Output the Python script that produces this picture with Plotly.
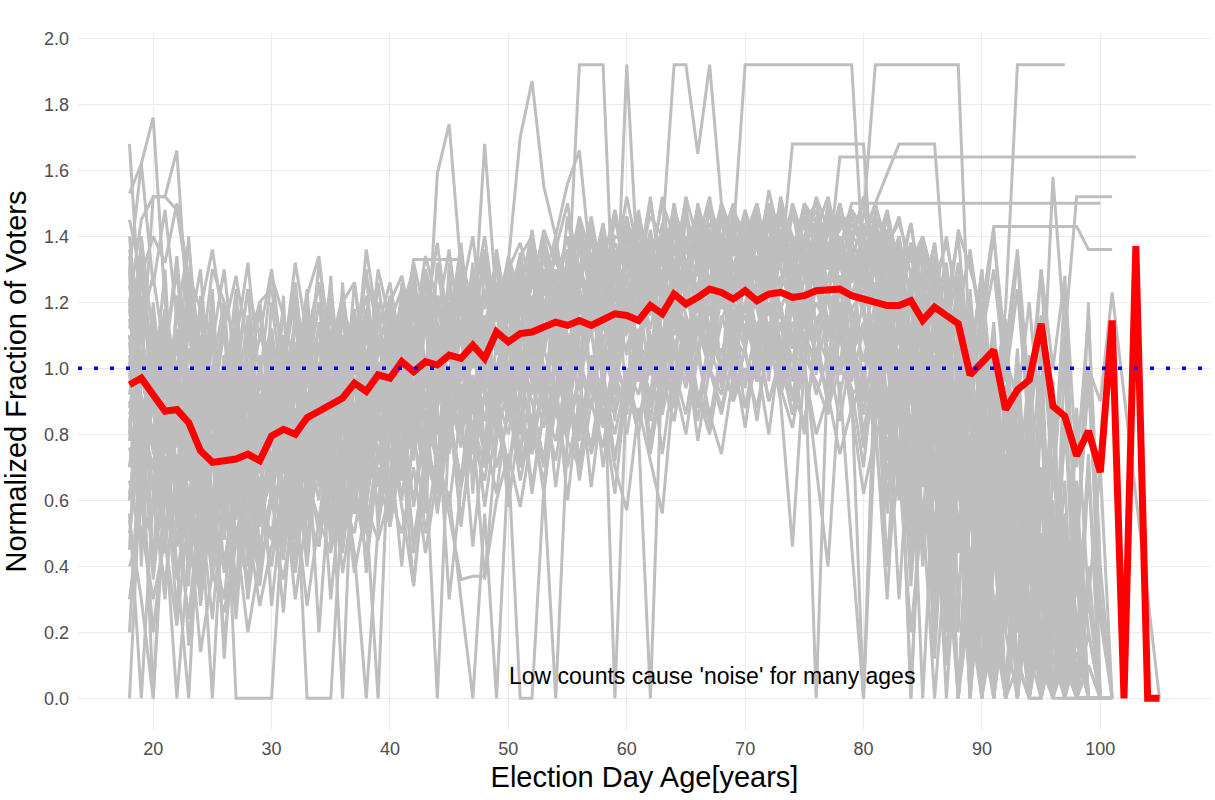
import plotly.graph_objects as go

# Election-day ages shown on the x axis
ages = list(range(18, 106))

# Mean normalized fraction (red line), ages 18..105
mean_fraction = [
    0.95, 0.97,
    0.92, 0.87, 0.875, 0.835, 0.75, 0.715, 0.72, 0.725, 0.74, 0.72,
    0.795, 0.815, 0.80, 0.85, 0.87, 0.89, 0.91, 0.955, 0.93, 0.98,
    0.97, 1.02, 0.99, 1.02, 1.01, 1.04, 1.03, 1.07, 1.03, 1.11,
    1.08, 1.105, 1.11, 1.125, 1.14, 1.13, 1.145, 1.13, 1.145, 1.165,
    1.16, 1.145, 1.19, 1.165, 1.225, 1.195, 1.215, 1.24, 1.23, 1.21,
    1.235, 1.205, 1.225, 1.23, 1.215, 1.22, 1.235, 1.235, 1.24, 1.22,
    1.21, 1.205, 1.19, 1.19, 1.205, 1.145, 1.185, 1.16, 1.135, 0.98,
    1.02, 1.055, 0.875, 0.935, 0.965, 1.135, 0.885, 0.855, 0.735, 0.81,
    0.685, 1.145, 0.0, 1.37, 0.0, 0.0,
]

# Individual (per-area) normalized fractions, gray lines, starting at age 18
g01 = [0.88, 1.12, 0.74, 1.05, 0.62, 0.98, 0.80, 1.18, 0.70, 0.95, 0.60, 1.02, 0.85, 1.10, 0.72, 0.96, 1.20, 0.88, 1.04, 0.76, 1.12, 0.90, 1.18, 0.84, 1.06, 1.28, 0.92, 1.15, 1.00, 1.32, 0.96, 1.20, 1.08, 1.35, 1.15, 1.28, 1.04, 1.20, 1.92, 1.92, 1.92, 1.05, 1.92, 1.25, 1.40, 1.18, 1.50, 1.30, 1.45, 1.22, 1.38, 1.50, 1.32, 1.46, 1.28, 1.52, 1.36, 1.44, 1.25, 1.48, 1.34, 1.40, 1.50, 1.28, 1.42, 1.18, 1.36, 1.05, 1.30, 0.90, 1.20, 0.70, 1.10, 0.45, 0.95, 0.30, 0.80, 0.0, 0.60, 0.20, 0.0, 0.0, 0.0]
g02 = [1.02, 0.76, 1.20, 0.84, 1.08, 0.66, 0.94, 1.12, 0.78, 1.00, 1.24, 0.82, 0.96, 1.18, 0.80, 1.04, 1.26, 0.92, 1.10, 0.85, 1.18, 1.00, 0.90, 1.24, 1.08, 0.96, 1.30, 1.12, 1.38, 1.04, 1.22, 1.16, 1.28, 1.10, 1.40, 1.22, 1.34, 1.18, 1.45, 1.26, 1.38, 1.30, 1.52, 1.34, 1.46, 1.40, 1.92, 1.92, 1.65, 1.92, 1.50, 1.40, 1.92, 1.92, 1.92, 1.92, 1.92, 1.92, 1.92, 1.92, 1.92, 1.92, 1.30, 1.45, 1.15, 1.38, 1.00, 1.25, 0.85, 1.10, 0.60, 0.95, 0.40, 0.80, 0.0, 0.65, 0.25, 0.50, 0.0, 0.35, 0.0, 0.20, 0.0]
g03 = [0.60, 0.95, 1.10, 0.70, 0.88, 0.52, 1.04, 0.76, 0.60, 0.92, 0.48, 0.86, 0.70, 0.98, 0.58, 0.84, 1.02, 0.66, 0.90, 1.12, 0.74, 0.96, 1.08, 0.82, 1.18, 0.94, 1.04, 1.26, 0.90, 1.14, 1.00, 1.24, 0.96, 1.18, 1.32, 1.04, 1.26, 1.40, 1.12, 1.30, 1.20, 1.46, 1.26, 1.38, 1.18, 1.44, 1.30, 1.24, 1.50, 1.36, 1.28, 1.42, 1.34, 1.20, 1.46, 1.30, 1.68, 1.68, 1.68, 1.68, 1.68, 1.68, 1.68, 1.12, 1.32, 0.95, 1.20, 0.80, 1.10, 0.60, 0.90, 0.40, 0.75, 0.20, 0.60, 0.0, 0.45, 0.0, 0.30, 0.55, 0.0, 0.10, 0.0]
g04 = [1.25, 0.98, 0.80, 1.12, 0.94, 0.70, 1.20, 0.86, 1.02, 0.64, 0.96, 1.18, 0.78, 1.00, 1.22, 0.86, 0.94, 1.08, 0.70, 1.16, 0.92, 1.04, 1.22, 0.96, 1.10, 0.88, 1.32, 1.04, 1.18, 1.26, 0.98, 1.36, 1.14, 1.28, 1.06, 1.38, 1.20, 1.32, 1.26, 1.42, 1.18, 1.34, 1.40, 1.24, 1.50, 1.32, 1.44, 1.28, 1.38, 1.52, 1.30, 1.46, 1.36, 1.50, 1.28, 1.42, 1.34, 1.48, 1.40, 1.30, 1.64, 1.64, 1.64, 1.64, 1.64, 1.64, 1.64, 1.64, 1.64, 1.64, 1.64, 1.64, 1.64, 1.64, 1.64, 1.64, 1.64, 1.64, 1.64, 1.64, 1.64, 1.64, 1.64, 1.64, 1.64, 1.64]
g05 = [0.78, 1.30, 0.96, 0.58, 1.22, 0.84, 0.66, 1.00, 1.20, 0.72, 0.90, 1.10, 1.00, 0.76, 0.92, 1.24, 0.68, 1.08, 0.86, 1.00, 1.30, 0.80, 0.94, 1.16, 0.84, 1.22, 1.08, 0.92, 1.28, 1.10, 1.36, 1.04, 1.26, 1.00, 1.18, 1.36, 1.12, 1.46, 1.24, 1.10, 1.40, 1.28, 1.18, 1.42, 1.30, 1.52, 1.24, 1.40, 1.34, 1.26, 1.48, 1.36, 1.42, 1.30, 1.54, 1.38, 1.26, 1.50, 1.44, 1.36, 1.50, 1.32, 1.46, 1.92, 1.92, 1.92, 1.92, 1.92, 1.92, 1.92, 1.92, 1.00, 1.30, 0.60, 1.10, 0.40, 0.95, 0.0, 0.70, 0.30, 0.55, 0.0, 0.0]
g06 = [1.10, 0.84, 0.70, 1.04, 1.30, 0.88, 0.62, 0.96, 1.14, 0.80, 1.00, 0.68, 1.20, 0.92, 1.04, 0.70, 0.98, 1.16, 0.84, 1.26, 1.00, 1.10, 0.86, 1.18, 1.30, 1.00, 1.12, 0.96, 1.22, 1.40, 1.08, 1.18, 1.32, 1.16, 1.28, 1.08, 1.38, 1.22, 1.30, 1.46, 1.26, 1.14, 1.36, 1.28, 1.40, 1.20, 1.46, 1.32, 1.24, 1.50, 1.38, 1.30, 1.26, 1.44, 1.36, 1.50, 1.30, 1.40, 1.48, 1.32, 1.44, 1.38, 1.52, 1.36, 1.48, 1.30, 1.44, 1.20, 1.38, 1.10, 1.32, 1.00, 1.25, 0.90, 1.18, 1.92, 1.92, 1.92, 1.92, 1.92]
g07 = [0.92, 1.20, 1.04, 0.80, 1.18, 0.96, 0.74, 1.10, 0.90, 1.24, 0.70, 1.00, 1.12, 0.86, 0.98, 1.20, 0.80, 1.06, 0.94, 1.18, 0.88, 1.26, 1.00, 1.22, 0.92, 1.28, 1.14, 1.02, 1.34, 1.18, 1.06, 1.30, 1.20, 1.34, 1.12, 1.40, 1.24, 1.18, 1.36, 1.28, 1.44, 1.22, 1.34, 1.48, 1.26, 1.40, 1.30, 1.52, 1.38, 1.24, 1.46, 1.34, 1.48, 1.36, 1.28, 1.50, 1.40, 1.34, 1.52, 1.42, 1.30, 1.46, 1.38, 1.50, 1.59, 1.68, 1.68, 1.68, 1.68, 1.20, 1.40, 1.00, 1.30, 0.80, 1.15, 0.60, 1.00, 0.30, 0.85, 0.0, 0.50, 0.0, 0.0]
g08 = [0.70, 1.04, 0.88, 0.60, 1.00, 0.78, 0.54, 0.92, 0.70, 1.06, 0.82, 0.64, 0.96, 0.74, 1.08, 0.84, 0.70, 1.00, 1.16, 0.86, 1.04, 0.92, 1.12, 0.98, 0.86, 1.18, 1.04, 1.24, 0.96, 1.16, 1.30, 1.06, 1.18, 1.32, 1.04, 1.26, 1.40, 1.16, 1.30, 1.22, 1.38, 1.26, 1.30, 1.44, 1.22, 1.38, 1.26, 1.46, 1.34, 1.42, 1.28, 1.48, 1.40, 1.28, 1.46, 1.32, 1.50, 1.38, 1.26, 1.44, 1.36, 1.50, 1.50, 1.50, 1.50, 1.50, 1.50, 1.50, 1.50, 1.50, 1.50, 1.50, 1.50, 1.50, 1.50, 1.50, 1.50, 1.50, 1.50, 1.50, 1.50, 1.50, 1.50]
g09 = [1.15, 0.90, 0.62, 0.98, 0.76, 1.12, 0.86, 0.58, 1.04, 0.74, 0.92, 1.20, 0.84, 1.06, 0.66, 0.98, 1.12, 0.80, 1.24, 0.94, 0.74, 1.08, 0.96, 1.12, 1.24, 0.88, 1.20, 1.06, 0.98, 1.28, 1.12, 0.94, 1.22, 1.04, 1.36, 1.18, 1.08, 1.30, 1.24, 1.42, 1.16, 1.32, 1.42, 1.20, 1.36, 1.28, 1.50, 1.24, 1.40, 1.32, 1.46, 1.20, 1.34, 1.48, 1.24, 1.40, 1.32, 1.46, 1.28, 1.50, 1.38, 1.26, 1.40, 1.30, 1.46, 1.24, 1.38, 1.12, 1.32, 1.00, 1.26, 0.84, 1.18, 0.70, 1.04, 0.90, 1.20, 0.80, 1.58, 1.10, 1.52, 1.52, 1.52, 1.52]
g10 = [0.98, 0.72, 1.18, 0.92, 0.68, 1.06, 0.80, 1.24, 0.64, 0.96, 1.10, 0.78, 1.04, 0.88, 1.16, 0.72, 0.94, 1.20, 1.00, 0.78, 1.14, 0.96, 1.08, 0.90, 1.20, 1.12, 0.94, 1.18, 1.30, 1.02, 1.14, 1.26, 1.10, 1.28, 1.20, 1.34, 1.16, 1.26, 1.42, 1.20, 1.32, 1.24, 1.26, 1.38, 1.32, 1.20, 1.44, 1.30, 1.36, 1.48, 1.26, 1.38, 1.42, 1.30, 1.38, 1.46, 1.28, 1.40, 1.34, 1.48, 1.30, 1.44, 1.36, 1.28, 1.42, 1.20, 1.38, 1.16, 1.30, 1.04, 1.24, 0.96, 1.18, 1.43, 1.43, 1.43, 1.43, 1.43, 1.43, 1.43, 1.43, 1.36, 1.36, 1.36]
g11 = [0.80, 1.40, 1.08, 0.76, 0.90, 1.28, 0.70, 0.86, 1.12, 0.60, 0.94, 0.82, 0.66, 1.02, 0.90, 1.10, 0.76, 0.94, 0.84, 1.06, 1.22, 0.88, 1.14, 1.02, 0.92, 1.26, 1.10, 0.98, 1.20, 1.06, 1.24, 1.10, 1.00, 1.20, 1.32, 1.10, 1.26, 1.36, 1.18, 1.28, 1.40, 1.16, 1.28, 1.36, 1.20, 1.42, 1.32, 1.26, 1.46, 1.34, 1.22, 1.40, 1.30, 1.44, 1.36, 1.24, 1.48, 1.32, 1.40, 1.26, 1.46, 1.36, 1.24, 1.40, 1.10, 1.32, 0.96, 1.20, 0.80, 1.10, 0.60, 1.00, 0.40, 0.90, 0.20, 0.75, 0.0, 0.60, 0.35, 0.80, 0.50, 1.00, 0.90, 1.23, None, None, None, 0.0]
g12 = [1.68, 1.10, 0.92, 1.30, 0.64, 1.00, 0.44, 0.86, 1.20, 0.58, 0.96, 0.70, 1.04, 0.62, 0.88, 0.46, 0.92, 0.74, 1.10, 0.56, 0.84, 1.00, 0.78, 1.06, 0.90, 0.68, 1.12, 0.84, 1.00, 1.20, 0.76, 1.08, 0.96, 1.18, 1.04, 0.86, 1.24, 1.10, 0.98, 1.30, 1.14, 1.04, 1.22, 1.08, 1.30, 0.96, 1.18, 1.26, 1.10, 1.36, 1.20, 1.12, 1.30, 1.18, 1.04, 1.28, 1.20, 1.36, 1.12, 1.24, 1.32, 1.16, 1.10, 1.26, 0.90, 1.18, 0.70, 1.04, 0.50, 0.94, 0.30, 0.80, 0.0, 0.64, 0.20, 0.52, 0.0, 0.40, 0.0, 0.28, 0.0, 0.10, 0.0]
g13 = [1.53, 1.62, 1.76, 1.20, 0.96, 1.40, 0.78, 1.10, 0.64, 0.92, 0.50, 0.88, 0.72, 0.96, 0.58, 1.10, 0.66, 0.88, 1.20, 0.70, 0.98, 0.82, 0.64, 0.96, 1.12, 0.80, 1.04, 0.92, 0.76, 1.10, 0.98, 0.86, 1.12, 0.94, 1.22, 1.00, 0.88, 1.16, 1.04, 1.26, 0.94, 1.18, 1.04, 1.24, 1.10, 0.98, 1.30, 1.16, 1.04, 1.22, 1.34, 1.10, 1.20, 1.08, 1.32, 1.18, 1.06, 1.28, 1.14, 1.22, 1.00, 1.30, 1.16, 1.00, 1.24, 0.88, 1.10, 0.72, 0.98, 0.40, 0.86, 0.20, 0.70, 0.0, 0.56, 0.30, 0.0, 0.48, 0.12, 0.0, 0.36, 0.0, 0.0]
g14 = [1.20, 1.45, 1.52, 1.52, 1.66, 1.10, 1.30, 0.82, 1.00, 0.66, 1.12, 0.74, 0.90, 0.56, 1.04, 0.76, 0.60, 0.98, 0.82, 1.08, 0.64, 0.92, 1.04, 0.80, 0.94, 1.18, 0.72, 1.00, 1.12, 0.88, 1.06, 1.22, 0.90, 1.14, 1.00, 1.28, 1.08, 0.94, 1.20, 1.12, 1.32, 0.98, 1.16, 1.30, 1.06, 1.24, 1.12, 1.38, 1.18, 1.04, 1.28, 1.20, 1.12, 1.26, 1.18, 1.04, 1.30, 1.16, 1.24, 1.10, 1.28, 1.18, 1.02, 1.20, 0.84, 1.12, 0.60, 0.98, 0.36, 0.90, 0.0, 0.70, 0.50, 0.0, 0.42, 0.10, 0.60, 0.0, 0.20, 0.48, 0.0, 0.30, 0.0]
g15 = [0.0, 0.72, 0.56, 0.84, 0.40, 0.0, 0.68, 0.36, 0.80, 0.0, 0.0, 0.0, 0.0, 0.58, 0.76, 0.44, 0.88, 0.52, 0.70, 0.96, 0.60, 0.82, 0.94, 0.66, 0.84, 1.02, 0.74, 0.90, 1.10, 0.80, 0.98, 1.12, 0.88, 1.06, 0.96, 1.18, 1.00, 0.84, 1.10, 1.24, 0.96, 1.14, 1.06, 1.20, 0.98, 1.26, 1.14, 1.04, 1.20, 1.10, 1.32, 1.16, 1.24, 1.10, 1.28, 1.16, 1.02, 1.22, 1.34, 1.14, 1.20, 1.08, 0.96, 1.14, 0.80, 1.06, 0.56, 0.92, 0.30, 0.74, 0.0, 0.60, 0.20, 0.0, 0.50, 0.0, 0.30, 0.0, 0.46, 0.0, 0.14, 0.0, 0.0]
g16 = [0.54, 0.30, 0.0, 0.62, 0.46, 0.74, 0.28, 0.60, 0.38, 0.70, 0.44, 0.56, 0.66, 0.48, 0.72, 0.0, 0.0, 0.0, 0.62, 0.84, 0.50, 0.76, 0.68, 0.90, 0.58, 0.84, 0.72, 0.96, 0.80, 0.70, 0.92, 0.84, 1.02, 0.86, 0.76, 0.98, 1.10, 0.92, 1.04, 0.88, 1.14, 1.00, 0.92, 1.10, 1.24, 1.00, 1.16, 1.06, 1.22, 0.98, 1.14, 1.26, 1.10, 1.22, 1.04, 1.18, 1.28, 1.06, 1.20, 1.12, 1.26, 1.04, 1.20, 0.94, 1.12, 0.70, 1.04, 0.50, 0.88, 0.20, 0.76, 0.0, 0.60, 0.30, 0.0, 0.44, 0.10, 0.62, 0.0, 0.38, 0.0, 0.0, 0.0]
g17 = [0.84, 0.56, 0.72, 0.44, 0.88, 0.60, 0.34, 0.76, 0.52, 0.90, 0.40, 0.64, 0.48, 0.80, 0.58, 0.90, 0.64, 0.74, 0.0, 0.88, 0.56, 0.0, 0.86, 0.60, 0.92, 0.72, 0.0, 0.84, 0.66, 0.98, 0.78, 0.92, 0.80, 1.00, 0.90, 0.72, 1.04, 0.86, 0.96, 1.12, 0.82, 1.04, 1.18, 0.96, 1.08, 0.92, 1.20, 1.04, 1.12, 1.26, 1.00, 1.16, 1.06, 1.24, 1.12, 0.98, 1.20, 1.08, 1.28, 1.04, 1.18, 0.96, 1.12, 0.90, 1.06, 0.60, 0.98, 0.40, 0.84, 0.10, 0.72, 0.0, 0.44, 0.0, 0.30, 0.66, 0.0, 0.36, 0.0, 0.24, 0.0, 0.0, 0.0]
g18 = [0.62, 0.88, 0.36, 0.70, 0.54, 0.24, 0.62, 0.46, 0.30, 0.66, 0.52, 0.38, 0.60, 0.42, 0.70, 0.56, 0.46, 0.82, 0.60, 0.50, 0.74, 0.64, 0.80, 0.58, 0.34, 0.76, 0.66, 0.62, 0.30, 0.0, 0.56, 0.0, 0.72, 0.0, 0.0, 0.64, 0.0, 0.80, 0.96, 0.74, 0.88, 0.62, 0.96, 0.80, 0.0, 1.04, 0.88, 1.14, 0.92, 0.84, 1.06, 0.98, 1.20, 0.96, 1.10, 0.90, 0.46, 1.02, 0.70, 0.40, 0.96, 0.46, 0.0, 0.84, 0.30, 0.92, 0.0, 0.76, 0.20, 0.64, 0.0, 0.44, 0.0, 0.56, 0.0, 0.24, 0.40, 0.0, 0.18, 0.0, 0.0, 0.0, 0.0]
g19 = [1.40, 0.96, 1.10, 0.84, 0.60, 0.96, 0.70, 1.12, 0.48, 0.80, 0.64, 0.92, 0.76, 1.00, 0.84, 0.62, 0.96, 0.72, 1.04, 0.88, 0.68, 0.96, 1.02, 0.84, 0.74, 1.00, 0.88, 1.12, 0.94, 0.80, 1.08, 0.90, 1.18, 0.96, 0.84, 1.06, 0.92, 1.26, 1.00, 0.88, 1.10, 0.0, 0.96, 1.12, 0.88, 1.20, 0.94, 1.08, 1.24, 0.98, 1.16, 1.04, 1.28, 1.00, 1.20, 0.96, 1.14, 1.08, 0.0, 1.04, 1.18, 0.92, 0.0, 1.06, 0.72, 0.98, 0.44, 0.90, 0.16, 0.80, 0.0, 0.62, 0.0, 0.40, 0.72, 0.0, 0.52, 0.14, 0.0, 0.34, 0.60, 0.0, 0.0]
g20 = [1.04, 0.66, 0.82, 0.58, 0.96, 0.44, 0.74, 0.56, 0.86, 0.48, 0.72, 0.60, 0.90, 0.64, 0.56, 0.78, 0.92, 0.60, 0.82, 0.70, 0.96, 0.74, 0.86, 0.74, 1.02, 0.66, 0.94, 0.82, 1.04, 0.90, 0.74, 1.00, 0.84, 1.02, 0.76, 0.94, 1.08, 0.80, 0.98, 0.64, 0.92, 0.70, 0.57, 0.88, 0.72, 0.56, 0.96, 0.80, 1.04, 0.86, 0.74, 0.98, 0.88, 1.02, 0.80, 1.08, 0.92, 0.84, 1.06, 0.90, 1.12, 0.86, 1.00, 0.78, 0.94, 0.30, 0.86, 0.0, 0.70, 0.0, 0.54, 0.24, 0.0, 0.48, 0.0, 0.30, 0.0, 0.0, 0.16, 0.40, 0.0, 0.0, 0.0]
g21 = [1.12, 1.34, 0.98, 1.18, 0.84, 1.06, 0.92, 0.74, 1.04, 0.88, 1.16, 0.80, 1.06, 0.94, 1.12, 1.00, 0.86, 1.18, 0.96, 1.08, 0.90, 1.14, 1.00, 1.16, 1.04, 0.96, 1.22, 1.08, 1.14, 1.26, 1.00, 1.18, 1.24, 1.12, 1.30, 1.18, 1.08, 1.34, 1.22, 1.16, 1.38, 1.26, 1.20, 1.36, 1.24, 1.42, 1.18, 1.32, 1.40, 1.26, 1.36, 1.22, 1.38, 1.26, 1.44, 1.30, 1.18, 1.40, 1.32, 1.46, 1.24, 1.38, 1.32, 1.18, 1.38, 1.10, 1.26, 1.04, 1.20, 0.86, 1.10, 0.64, 1.04, 0.40, 0.88, 0.20, 0.70, 0.0, 0.56, 0.0, 0.42, 0.0, 0.0, 0.0]
g22 = [0.86, 0.98, 1.04, 0.76, 0.92, 0.68, 1.10, 0.84, 0.62, 0.94, 0.78, 1.00, 0.70, 0.92, 1.04, 0.82, 1.14, 0.88, 0.76, 1.02, 1.18, 0.84, 1.10, 0.94, 1.18, 0.84, 1.06, 1.20, 0.98, 1.12, 0.92, 1.26, 1.08, 1.22, 0.96, 1.16, 1.30, 1.04, 1.24, 1.10, 1.32, 1.18, 1.10, 1.28, 1.16, 1.34, 1.04, 1.24, 1.30, 1.16, 1.38, 1.12, 1.26, 1.34, 1.16, 1.38, 1.24, 1.12, 1.36, 1.22, 1.40, 1.30, 1.18, 1.36, 1.06, 1.28, 0.90, 1.16, 0.70, 1.04, 0.50, 0.90, 0.30, 0.76, 0.0, 0.60, 0.18, 0.44, 0.0, 0.30, 0.0, 0.0, 0.0, 0.0]
g23 = [1.45, 1.28, 1.40, 1.32, 1.50, 1.28, 1.18, 1.36, 1.12, 1.28, 1.06, 1.20, 1.24, 1.02, 1.32, 1.10, 1.26, 0.98, 1.18, 1.08, 1.28, 1.12, 1.20, 1.28, 1.10, 1.34, 1.20, 1.14, 1.30, 1.22, 1.36, 1.16, 1.30, 1.38, 1.24, 1.42, 1.32, 1.28, 1.46, 1.34, 1.24, 1.40, 1.38, 1.46, 1.32, 1.50, 1.40, 1.36, 1.48, 1.32, 1.44, 1.40, 1.46, 1.38, 1.50, 1.40, 1.34, 1.48, 1.42, 1.52, 1.36, 1.46, 1.40, 1.50, 1.36, 1.46, 1.28, 1.40, 1.18, 1.32, 0.96, 1.20, 0.80, 1.10, 0.60, 0.98, 0.40, 0.84, 0.20, 0.66, 0.0, 0.40, 0.0, 0.0]
g24 = [1.30, 1.62, 1.25, 1.48, 1.15, 1.38, 1.00, 1.30, 1.20, 1.08, 1.32, 0.96, 1.28, 1.16, 1.00, 1.22, 1.34, 1.04, 1.20, 1.26, 0.96, 1.30, 1.14, 1.24, 1.02, 1.30, 1.16, 1.36, 1.08, 1.26, 1.18, 1.32, 1.16, 1.34, 1.40, 1.22, 1.36, 1.50, 1.26, 1.38, 1.32, 1.48, 1.30, 1.44, 1.36, 1.26, 1.48, 1.38, 1.42, 1.30, 1.50, 1.36, 1.40, 1.50, 1.32, 1.46, 1.38, 1.44, 1.50, 1.36, 1.42, 1.48, 1.34, 1.46, 1.24, 1.40, 1.10, 1.30, 0.96, 1.20, 0.76, 1.08, 0.60, 0.96, 0.40, 0.82, 0.20, 0.70, 0.0, 0.56, 0.24, 0.0, 0.0, 0.0]
g25 = [0.40, 0.52, 0.30, 0.48, 0.22, 0.56, 0.14, 0.38, 0.26, 0.50, 0.20, 0.42, 0.52, 0.36, 0.60, 0.28, 0.54, 0.44, 0.66, 0.38, 0.58, 0.48, 0.62, 0.50, 0.70, 0.44, 0.68, 0.56, 0.36, 0.37, 0.37, 0.60, 0.74, 0.58, 0.80, 0.66, 0.88, 0.70, 0.90, 0.76, 0.94, 0.80, 0.98, 0.84, 1.02, 0.90, 1.08, 0.94, 1.12, 1.00, 0.86, 1.04, 0.96, 1.12, 0.90, 1.04, 0.86, 1.00, 0.80, 0.92, 0.74, 0.88, 0.62, 0.80, 0.40, 0.70, 0.20, 0.58, 0.0, 0.46, 0.0, 0.30, 0.0, 0.22, 0.0, 0.10, 0.0, 0.0, 0.36, 0.0, 0.0, 0.0, 0.0, 0.0]
g26 = [0.66, 0.46, 0.60, 0.34, 0.70, 0.42, 0.58, 0.24, 0.64, 0.36, 0.52, 0.28, 0.46, 0.60, 0.38, 0.70, 0.50, 0.62, 0.44, 0.76, 0.54, 0.68, 0.52, 0.74, 0.60, 0.80, 0.58, 0.86, 0.66, 0.78, 0.92, 0.70, 0.86, 0.74, 0.96, 0.82, 1.00, 0.88, 0.78, 1.04, 0.92, 0.86, 1.00, 0.92, 1.10, 0.86, 1.04, 0.96, 1.16, 1.00, 0.92, 1.10, 1.04, 0.96, 1.14, 1.00, 0.92, 1.10, 1.02, 0.94, 1.16, 1.00, 0.92, 1.04, 0.76, 0.96, 0.52, 0.84, 0.28, 0.70, 0.0, 0.56, 0.30, 0.0, 0.48, 0.12, 0.0, 0.34, 0.0, 0.20, 0.0, 0.0, 0.0, 0.0]
g27 = [1.18, 0.90, 0.76, 1.00, 0.58, 0.86, 0.50, 0.78, 0.96, 0.62, 0.84, 0.54, 0.80, 0.68, 0.94, 0.60, 0.86, 0.74, 0.98, 0.66, 0.88, 0.78, 0.96, 0.72, 0.88, 1.04, 0.80, 0.98, 0.88, 1.06, 0.84, 1.00, 0.92, 1.10, 1.00, 0.88, 1.16, 1.02, 0.94, 1.20, 1.06, 0.96, 1.14, 1.04, 0.92, 1.18, 1.08, 1.00, 1.22, 1.12, 1.04, 1.20, 1.12, 1.04, 1.24, 1.08, 0.98, 1.20, 1.10, 1.02, 1.24, 1.06, 1.10, 0.96, 1.14, 0.84, 1.04, 0.68, 0.94, 0.50, 0.84, 0.36, 0.70, 0.20, 0.56, 0.0, 0.40, 0.10, 0.0, 0.30, 0.0, 0.0, 0.0, 0.0]
g28 = [1.00, 1.28, 0.86, 1.12, 1.00, 1.24, 0.94, 1.18, 0.80, 1.08, 0.96, 1.20, 0.90, 1.10, 0.82, 1.16, 0.98, 1.26, 0.88, 1.12, 1.04, 0.92, 1.20, 1.04, 1.28, 0.96, 1.59, 1.74, 1.30, 1.10, 1.68, 1.20, 1.32, 1.70, 1.87, 1.55, 1.40, 1.56, 1.66, 1.30, 1.42, 1.20, 1.46, 1.30, 1.52, 1.24, 1.42, 1.36, 1.28, 1.48, 1.40, 1.26, 1.42, 1.30, 1.48, 1.36, 1.24, 1.46, 1.38, 1.30, 1.50, 1.34, 1.28, 1.42, 1.18, 1.34, 1.04, 1.26, 0.90, 1.16, 0.70, 1.04, 0.50, 0.96, 0.30, 0.84, 0.10, 0.70, 0.0, 0.54, 0.20, 0.0, 0.0, 0.0]
g29 = [1.34, 1.00, 1.52, 1.52, 1.48, 1.24, 1.04, 0.90, 0.76, 1.00, 0.68, 0.92, 0.82, 1.04, 0.94, 0.76, 1.08, 0.86, 0.98, 1.14, 0.80, 1.02, 0.92, 1.08, 1.33, 1.33, 1.33, 1.33, 1.33, 1.16, 1.00, 1.24, 1.08, 1.22, 1.12, 1.30, 1.18, 1.04, 1.28, 1.16, 1.36, 1.10, 1.24, 1.16, 1.38, 1.04, 1.30, 1.22, 1.12, 1.34, 1.18, 1.28, 1.32, 1.20, 1.10, 1.36, 1.26, 1.16, 1.38, 1.24, 1.12, 1.34, 1.20, 1.30, 1.00, 1.24, 0.80, 1.10, 0.60, 1.00, 0.44, 0.88, 0.20, 0.72, 0.0, 0.60, 0.30, 0.0, 0.46, 0.0, 0.22, 0.0, 0.0, 0.0]
g30 = [0.76, 0.58, 0.92, 0.66, 0.48, 0.80, 0.60, 0.40, 0.72, 0.54, 0.84, 0.46, 0.62, 0.78, 0.50, 0.66, 0.84, 0.56, 0.74, 0.62, 0.44, 0.70, 0.58, 0.76, 0.34, 0.70, 0.88, 0.30, 0.64, 0.82, 0.36, 0.78, 0.96, 0.70, 0.86, 0.62, 0.92, 0.78, 0.70, 1.00, 0.84, 0.74, 0.88, 1.02, 0.76, 0.96, 0.84, 1.08, 0.92, 0.80, 1.02, 0.90, 1.00, 0.88, 1.08, 0.94, 0.82, 1.04, 0.96, 0.86, 1.10, 0.92, 0.96, 0.84, 1.02, 0.66, 0.94, 0.44, 0.86, 0.22, 0.70, 0.0, 0.40, 0.0, 0.28, 0.60, 0.0, 0.20, 0.0, 0.44, 0.0, 0.0, 0.0, 0.0]
g31 = [0.45, 1.20, 0.38, 1.10, 0.52, 1.26, 0.30, 0.98, 0.56, 1.18, 0.42, 1.04, 0.60, 1.22, 0.48, 1.08, 0.66, 1.28, 0.52, 1.14, 0.70, 1.20, 0.58, 1.26, 0.72, 1.16, 0.64, 1.32, 0.80, 1.22, 0.70, 1.36, 0.84, 1.30, 0.76, 1.40, 0.90, 1.34, 0.82, 1.44, 0.96, 1.36, 0.88, 1.46, 1.00, 1.40, 0.92, 1.50, 1.02, 1.42, 0.94, 1.48, 1.04, 1.44, 0.96, 1.50, 1.06, 1.40, 0.98, 1.46, 1.08, 1.42, 0.90, 1.48, 0.80, 1.40, 0.60, 1.36, 0.40, 1.30, 0.20, 1.20, 0.0, 1.10, 0.30, 1.00, 0.0, 0.90, 0.20, 1.04, 0.0, 0.70, 0.0]
g32 = [1.30, 0.40, 1.16, 0.46, 1.02, 0.34, 1.22, 0.50, 0.96, 0.28, 1.12, 0.54, 1.08, 0.44, 1.20, 0.58, 1.00, 0.46, 1.26, 0.62, 1.06, 0.52, 1.18, 0.66, 1.30, 0.56, 1.14, 0.74, 1.24, 0.62, 1.34, 0.78, 1.26, 0.70, 1.38, 0.86, 1.30, 0.78, 1.42, 0.92, 1.34, 0.84, 1.44, 0.96, 1.38, 0.86, 1.46, 0.98, 1.36, 1.04, 1.50, 0.90, 1.42, 1.00, 1.48, 0.92, 1.40, 1.06, 1.46, 0.94, 1.38, 1.02, 1.44, 0.86, 1.38, 0.64, 1.30, 0.46, 1.26, 0.24, 1.16, 0.10, 1.04, 0.0, 0.92, 0.22, 0.84, 0.0, 0.96, 0.12, 0.66, 0.0, 0.0]
g33 = [0.70, 0.92, 0.64, 0.86, 0.58, 0.78, 0.50, 0.72, 0.62, 0.84, 0.56, 0.80, 0.66, 0.88, 0.70, 0.92, 0.64, 0.86, 0.74, 0.96, 0.78, 0.90, 0.84, 1.00, 0.80, 1.04, 0.88, 1.08, 0.92, 1.02, 0.96, 1.12, 1.00, 1.14, 1.06, 1.18, 1.02, 1.20, 1.10, 1.24, 1.08, 1.22, 1.14, 1.26, 1.12, 1.30, 1.18, 1.28, 1.22, 1.34, 1.20, 1.30, 1.26, 1.34, 1.22, 1.36, 1.28, 1.32, 1.24, 1.38, 1.30, 1.34, 1.26, 1.36, 1.20, 1.34, 1.24, 1.38, 1.22, 1.40, 1.16, 1.36, 1.10, 1.42, 0.96, 1.34, 0.80, 1.30, 0.64, 1.24, 0.40, 1.20, 0.0]
g34 = [1.08, 0.62, 0.98, 0.44, 0.88, 0.66, 1.04, 0.36, 0.80, 0.58, 0.92, 0.40, 0.86, 0.54, 0.98, 0.60, 0.84, 0.68, 1.02, 0.56, 0.94, 0.72, 1.06, 0.70, 0.96, 0.82, 1.12, 0.76, 1.00, 0.90, 1.16, 0.84, 1.08, 0.92, 1.20, 0.88, 1.14, 0.98, 1.24, 0.94, 1.18, 1.02, 1.28, 1.04, 1.22, 0.98, 1.32, 1.08, 1.26, 1.12, 1.34, 1.06, 1.30, 1.10, 1.36, 1.04, 1.28, 1.14, 1.34, 1.08, 1.38, 1.12, 1.30, 1.02, 1.34, 0.90, 1.24, 0.70, 1.18, 0.50, 1.08, 0.30, 0.96, 0.10, 0.86, 0.0, 0.76, 0.26, 0.90, 0.0, 0.58, 0.20, 0.0]
g35 = [0.30, 0.60, 0.20, 0.52, 0.0, 0.44, 0.32, 0.64, 0.18, 0.48, 0.36, 0.60, 0.40, 0.66, 0.30, 0.56, 0.46, 0.72, 0.38, 0.62, 0.50, 0.76, 0.56, 0.80, 0.48, 0.72, 0.62, 0.86, 0.54, 0.78, 0.66, 0.90, 0.70, 0.94, 0.64, 0.88, 0.78, 1.00, 0.72, 0.96, 0.84, 1.04, 0.90, 1.08, 0.84, 1.12, 0.96, 1.16, 0.88, 1.10, 1.00, 1.18, 0.94, 1.14, 1.02, 1.20, 0.96, 1.16, 1.04, 1.22, 0.98, 1.12, 0.86, 1.10, 0.66, 1.02, 0.44, 0.94, 0.20, 0.84, 0.0, 0.74, 0.0, 0.60, 0.0, 0.50, 0.14, 0.0, 0.40, 0.0, 0.24, 0.0, 0.0]
g36 = [1.10, 0.86, 1.02, 0.74, 1.12, 0.82, 0.68, 1.00, 0.78, 1.08, 0.70, 0.96, 0.82, 1.06, 0.76, 1.00, 0.88, 1.12, 0.80, 1.04, 0.92, 1.14, 0.96, 1.18, 1.04, 1.22, 0.98, 1.26, 1.08, 1.20, 1.12, 1.30, 1.14, 1.32, 1.18, 1.36, 1.22, 1.30, 1.26, 1.40, 1.20, 1.38, 1.30, 1.44, 1.26, 1.40, 1.34, 1.48, 1.30, 1.44, 1.36, 1.42, 1.32, 1.46, 1.38, 1.44, 1.34, 1.50, 1.40, 1.46, 1.36, 1.48, 1.42, 1.46, 1.38, 1.44, 1.32, 1.40, 1.26, 1.38, 1.20, 1.34, 1.10, 1.30, 0.96, 1.24, 0.80, 1.16, 0.64, 1.10, 0.46, 0.96, 0.30, 0.0]
g37 = [0.90, 0.74, 0.82, 0.66, 0.94, 0.60, 0.86, 0.70, 0.98, 0.64, 0.90, 0.76, 0.94, 0.70, 1.00, 0.78, 0.92, 0.74, 1.04, 0.82, 0.96, 0.86, 1.02, 0.84, 1.10, 0.90, 1.04, 0.94, 1.14, 0.92, 1.08, 1.00, 1.16, 0.98, 1.12, 1.06, 1.22, 1.02, 1.18, 1.10, 1.26, 1.06, 1.22, 1.14, 1.30, 1.10, 1.26, 1.18, 1.34, 1.16, 1.28, 1.22, 1.36, 1.18, 1.30, 1.24, 1.38, 1.20, 1.32, 1.26, 1.40, 1.22, 1.34, 1.22, 1.42, 1.26, 1.44, 1.20, 1.38, 1.12, 1.42, 1.30, 1.18, 1.40, 1.06, 1.36, 0.92, 1.30, 1.00, 1.28, 0.70, 1.16, 0.40, 0.0]
g38 = [0.56, 0.0, 0.62, 0.30, 0.74, 0.16, 0.58, 0.0, 0.66, 0.24, 0.70, 0.34, 0.64, 0.26, 0.72, 0.40, 0.80, 0.30, 0.68, 0.44, 0.0, 0.52, 0.76, 0.40, 0.82, 0.50, 0.74, 0.58, 0.88, 0.46, 0.80, 0.62, 0.90, 0.66, 0.84, 0.70, 0.96, 0.60, 0.92, 0.76, 1.00, 0.72, 0.96, 0.80, 1.04, 0.74, 1.00, 0.86, 1.08, 0.82, 1.02, 0.90, 1.06, 0.84, 1.10, 0.92, 1.04, 0.80, 1.12, 0.88, 1.00, 0.94, 0.70, 1.04, 0.40, 0.96, 0.0, 0.86, 0.30, 0.76, 0.0, 0.66, 0.0, 0.52, 0.20, 0.0, 0.44, 0.0, 0.34, 0.10, 0.0, 0.0, 0.0]
g39 = [1.36, 1.14, 1.28, 1.04, 1.34, 0.92, 1.20, 1.08, 1.30, 0.96, 1.24, 1.10, 1.30, 1.00, 1.26, 0.94, 1.32, 1.06, 1.22, 0.98, 1.36, 1.12, 1.26, 1.04, 1.32, 1.16, 1.38, 1.10, 1.30, 1.20, 1.40, 1.14, 1.34, 1.22, 1.42, 1.18, 1.36, 1.26, 1.44, 1.20, 1.38, 1.30, 1.46, 1.24, 1.40, 1.32, 1.48, 1.28, 1.42, 1.34, 1.50, 1.30, 1.44, 1.36, 1.50, 1.32, 1.46, 1.38, 1.42, 1.34, 1.48, 1.40, 1.36, 1.44, 1.30, 1.40, 1.20, 1.36, 1.10, 1.30, 0.94, 1.24, 0.80, 1.14, 0.60, 1.06, 0.44, 0.98, 0.30, 0.86, 0.16, 0.74, 0.0, 0.0]
g40 = [0.50, 0.80, 0.44, 0.70, 0.36, 0.62, 0.46, 0.76, 0.40, 0.68, 0.30, 0.58, 0.48, 0.74, 0.42, 0.66, 0.54, 0.80, 0.46, 0.72, 0.58, 0.84, 0.52, 0.78, 0.60, 0.86, 0.56, 0.82, 0.64, 0.90, 0.58, 0.84, 0.68, 0.92, 0.62, 0.88, 0.72, 0.96, 0.66, 0.90, 0.76, 1.00, 0.80, 1.02, 0.74, 0.98, 0.84, 1.06, 0.78, 1.00, 0.88, 1.04, 0.82, 1.08, 0.90, 1.02, 0.86, 1.10, 0.92, 1.04, 0.84, 1.06, 0.76, 1.00, 0.56, 0.92, 0.34, 0.84, 0.12, 0.72, 0.0, 0.62, 0.0, 0.48, 0.0, 0.36, 0.0, 0.24, 0.0, 0.12, 0.0, 0.0, 0.0]
g41 = [1.20, 0.66, 0.90, 1.16, 0.52, 0.96, 1.08, 0.58, 0.88, 1.14, 0.60, 0.86, 1.12, 0.70, 0.92, 1.18, 0.74, 0.98, 0.62, 1.10, 0.86, 1.20, 0.80, 1.06, 0.92, 0.74, 1.14, 0.96, 1.24, 0.86, 1.10, 0.98, 1.20, 1.04, 0.92, 1.26, 1.10, 1.32, 1.00, 1.22, 1.14, 1.30, 1.12, 1.36, 1.20, 1.08, 1.32, 1.22, 1.40, 1.16, 1.34, 1.24, 1.38, 1.20, 1.30, 1.42, 1.16, 1.34, 1.26, 1.44, 1.22, 1.36, 1.28, 1.40, 1.14, 1.34, 1.00, 1.28, 0.84, 1.20, 0.66, 1.12, 0.50, 1.02, 0.34, 0.90, 0.60, 1.08, 0.20, 0.82, 0.46, 1.00, 0.24, 0.0]
g42 = [0.60, 1.00, 0.76, 0.50, 0.84, 0.40, 0.90, 0.46, 0.70, 0.30, 0.78, 0.52, 0.70, 0.46, 0.84, 0.62, 0.76, 0.50, 0.90, 0.66, 0.80, 0.58, 0.94, 0.72, 0.86, 0.66, 1.00, 0.80, 0.92, 0.74, 1.04, 0.86, 0.96, 0.80, 1.10, 0.90, 1.02, 0.86, 1.14, 0.98, 1.06, 0.92, 1.16, 1.00, 1.10, 0.94, 1.20, 1.04, 1.14, 1.00, 1.22, 1.08, 1.16, 1.02, 1.24, 1.06, 1.18, 1.00, 1.26, 1.10, 1.20, 1.04, 1.14, 0.96, 1.08, 0.74, 1.02, 0.54, 0.96, 0.36, 0.90, 0.20, 0.84, 0.0, 0.74, 0.30, 0.66, 0.0, 0.52, 0.0, 0.40, 0.0, 0.0]
g43 = [0.98, 1.22, 1.06, 0.82, 1.18, 0.88, 0.72, 1.10, 0.84, 0.66, 1.02, 0.90, 1.04, 0.82, 1.14, 0.90, 1.08, 0.78, 1.16, 0.94, 1.10, 0.86, 1.16, 1.00, 1.22, 0.94, 1.18, 1.04, 1.28, 1.00, 1.24, 1.10, 1.32, 1.08, 1.26, 1.16, 1.36, 1.12, 1.30, 1.20, 1.40, 1.16, 1.34, 1.24, 1.42, 1.20, 1.38, 1.28, 1.46, 1.22, 1.40, 1.30, 1.46, 1.26, 1.40, 1.32, 1.48, 1.28, 1.44, 1.34, 1.50, 1.30, 1.40, 1.32, 1.46, 1.22, 1.38, 1.10, 1.34, 0.96, 1.28, 0.0, 1.20, 0.64, 1.12, 0.0, 1.04, 0.40, 0.96, 0.0, 0.88, 0.30, 0.70, 0.0]
g44 = [0.20, 0.84, 0.0, 0.70, 0.26, 0.88, 0.40, 0.76, 0.12, 0.64, 0.34, 0.80, 0.28, 0.62, 0.44, 0.82, 0.20, 0.70, 0.48, 0.86, 0.38, 0.74, 0.60, 0.88, 0.44, 0.76, 0.66, 0.92, 0.52, 0.84, 0.70, 0.96, 0.58, 0.86, 0.74, 1.00, 0.64, 0.92, 0.80, 1.02, 0.70, 0.98, 0.86, 1.06, 0.78, 1.02, 0.92, 1.10, 0.84, 1.06, 0.96, 1.12, 0.88, 1.08, 0.98, 1.14, 0.90, 1.10, 1.00, 1.16, 0.92, 1.08, 0.80, 1.04, 0.60, 0.98, 0.40, 0.90, 0.16, 0.82, 0.0, 0.70, 0.0, 0.56, 0.0, 0.42, 0.0, 0.30, 0.0, 0.0, 0.18, 0.0, 0.0]
g45 = [0.84, 1.04, 1.00, 0.78, 0.62, 0.94, 0.72, 0.52, 0.86, 0.66, 0.48, 0.82, 0.60, 0.90, 0.72, 0.54, 0.88, 0.68, 0.94, 0.74, 0.60, 0.92, 0.78, 1.00, 0.86, 0.70, 1.02, 0.90, 0.80, 1.06, 0.94, 0.84, 1.06, 0.92, 1.12, 0.98, 0.86, 1.10, 1.00, 1.16, 1.04, 0.94, 1.18, 1.06, 0.98, 1.20, 1.10, 1.24, 1.04, 1.18, 1.26, 1.12, 1.20, 1.30, 1.10, 1.24, 1.16, 1.32, 1.14, 1.22, 1.28, 1.18, 1.24, 1.10, 1.20, 0.86, 1.12, 0.64, 1.04, 0.44, 0.94, 0.26, 0.86, 0.12, 0.70, 0.0, 0.58, 0.22, 0.0, 0.36, 0.0, 0.0, 0.0]

# Which gray line bridges its missing ages (101 -> 105)
bridged_series = "g11"

# Tick labels
x_ticks = [20, 30, 40, 50, 60, 70, 80, 90, 100]
y_ticks = [0.0, 0.2, 0.4, 0.6, 0.8, 1.0, 1.2, 1.4, 1.6, 1.8, 2.0]
reference_level = 1.0
note_text = "Low counts cause 'noise' for many ages"
note_age, note_value = 67.2, 0.067

gray_named = {
    "g01": g01, "g02": g02, "g03": g03, "g04": g04, "g05": g05, "g06": g06, "g07": g07, "g08": g08, "g09": g09,
    "g10": g10, "g11": g11, "g12": g12, "g13": g13, "g14": g14, "g15": g15, "g16": g16, "g17": g17, "g18": g18,
    "g19": g19, "g20": g20, "g21": g21, "g22": g22, "g23": g23, "g24": g24, "g25": g25, "g26": g26, "g27": g27,
    "g28": g28, "g29": g29, "g30": g30, "g31": g31, "g32": g32, "g33": g33, "g34": g34, "g35": g35, "g36": g36,
    "g37": g37, "g38": g38, "g39": g39, "g40": g40, "g41": g41, "g42": g42, "g43": g43, "g44": g44, "g45": g45,
}

FONT = "Liberation Sans, Arial, sans-serif"
fig = go.Figure()

for name, s in gray_named.items():
    fig.add_trace(go.Scatter(
        x=ages[:len(s)], y=s, mode="lines", name=name,
        line=dict(color="#BEBEBE", width=3),
        connectgaps=(name == bridged_series),
        hoverinfo="skip", showlegend=False,
    ))

fig.add_trace(go.Scatter(
    x=ages, y=mean_fraction, mode="lines", name="mean",
    line=dict(color="#FF0000", width=7),
    showlegend=False,
))

fig.add_hline(y=reference_level, line=dict(color="#0000FF", width=3.5, dash="4px,12px"))

fig.add_annotation(x=note_age, y=note_value, text=note_text, showarrow=False,
                   xanchor="center", yanchor="middle",
                   font=dict(family=FONT, size=23, color="#000000"))

fig.update_layout(
    width=1215, height=800,
    margin=dict(l=78, r=4, t=33, b=70),
    plot_bgcolor="white", paper_bgcolor="white",
    font=dict(family=FONT),
    xaxis=dict(
        range=[13.65, 109.35], tickvals=x_ticks, showgrid=True,
        gridcolor="#EBEBEB", gridwidth=1.2, zeroline=False, showline=False,
        tickfont=dict(size=18, color="#4D4D4D", family=FONT),
        title=dict(text="Election Day Age[years]", font=dict(size=29, color="#000000", family=FONT), standoff=8),
        ticks="", ticklabelstandoff=6,
    ),
    yaxis=dict(
        range=[-0.096, 2.016], tickvals=y_ticks, tickformat=".1f", showgrid=True,
        gridcolor="#EBEBEB", gridwidth=1.2, zeroline=False, showline=False,
        tickfont=dict(size=18, color="#4D4D4D", family=FONT),
        title=dict(text="Normalized Fraction of Voters", font=dict(size=29, color="#000000", family=FONT), standoff=10),
        ticks="", ticklabelstandoff=8,
    ),
)

fig.write_html("out.html", config={"displayModeBar": False},
               post_script="document.body.style.margin='0px';")
